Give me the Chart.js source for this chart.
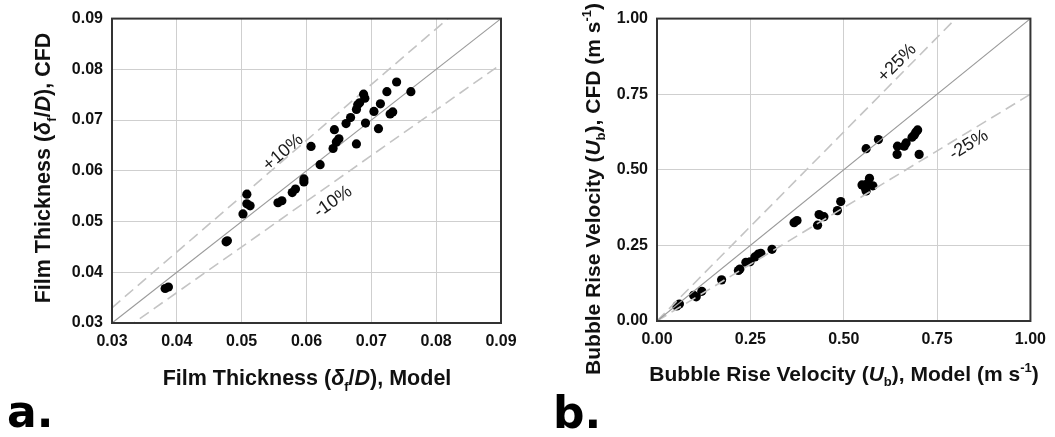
<!DOCTYPE html>
<html><head><meta charset="utf-8">
<script src="https://cdn.jsdelivr.net/npm/chart.js@4/dist/chart.umd.min.js"></script>
<style>
html,body{margin:0;padding:0;background:#fff;}
#wrap{position:relative;width:1055px;height:437px;overflow:hidden;background:#fff;}
canvas{position:absolute;top:0;}
#ca{left:0;} #cb{left:530px;}
</style></head><body>
<div id="wrap"><canvas id="ca" width="530" height="437"></canvas><canvas id="cb" width="525" height="437"></canvas></div>
<script>
// ---- Panel a: film thickness (delta_f / D) ----
const modelFilm = [0.0382,0.0387,0.0476,0.0478,0.0502,0.0508,0.0508,0.0513,0.0556,0.0562,0.0578,0.0583,0.0596,0.0596,0.0607,0.0621,0.0641,0.0643,0.0646,0.0650,0.0661,0.0668,0.0677,0.0677,0.0679,0.0682,0.0688,0.0690,0.0691,0.0704,0.0711,0.0714,0.0724,0.0729,0.0733,0.0739,0.0761];
const cfdFilm   = [0.0368,0.0371,0.0460,0.0462,0.0515,0.0554,0.0535,0.0531,0.0537,0.0541,0.0557,0.0564,0.0584,0.0578,0.0648,0.0612,0.0644,0.0681,0.0657,0.0663,0.0693,0.0705,0.0653,0.0721,0.0730,0.0734,0.0751,0.0743,0.0694,0.0717,0.0683,0.0732,0.0756,0.0712,0.0716,0.0775,0.0756];
const filmTicks = [0.03,0.04,0.05,0.06,0.07,0.08,0.09];
const filmBands = [1.10, 0.90];          // +10% / -10%
const filmBandLabels = ['+10%','-10%'];

// ---- Panel b: bubble rise velocity (m/s) ----
const modelUb = [0.053,0.060,0.098,0.105,0.120,0.173,0.218,0.222,0.238,0.249,0.262,0.271,0.278,0.308,0.367,0.375,0.430,0.434,0.447,0.483,0.492,0.549,0.558,0.564,0.569,0.578,0.560,0.560,0.593,0.643,0.644,0.662,0.667,0.683,0.689,0.693,0.698,0.702];
const cfdUb   = [0.050,0.056,0.085,0.080,0.098,0.136,0.167,0.172,0.194,0.196,0.212,0.221,0.224,0.237,0.325,0.332,0.317,0.352,0.345,0.365,0.395,0.450,0.439,0.455,0.472,0.447,0.430,0.570,0.600,0.551,0.578,0.578,0.589,0.608,0.615,0.624,0.632,0.551];
const ubTicks = [0.00,0.25,0.50,0.75,1.00];
const ubBands = [1.25, 0.75];            // +25% / -25%
const ubBandLabels = ['+25%','-25%'];

const FAM = '"Liberation Sans", Arial, Helvetica, sans-serif';
Chart.defaults.font.family = FAM;

function drawRich(ctx, segs, cx, cy, rot, size){
  ctx.save();
  ctx.translate(cx, cy); ctx.rotate(rot);
  const small = Math.round(size*0.62);
  const fontFor = s => (s.i?'italic ':'') + 'bold ' + ((s.sub||s.sup)?small:size) + 'px ' + FAM;
  let total = 0; const ws = [];
  segs.forEach(s => { ctx.font = fontFor(s); const w = ctx.measureText(s.t).width; ws.push(w); total += w; });
  let x = -total/2;
  ctx.textBaseline = 'alphabetic'; ctx.textAlign = 'left'; ctx.fillStyle = '#111';
  const base = size*0.36;
  segs.forEach((s,k) => {
    ctx.font = fontFor(s);
    const dy = s.sub ? size*0.28 : s.sup ? -size*0.42 : 0;
    ctx.fillText(s.t, x, base + dy);
    x += ws[k];
  });
  ctx.restore();
}

function makePlugin(o){
  return {
    id: 'decor',
    afterDatasetsDraw(chart){
      const ctx = chart.ctx, a = chart.chartArea, xs = chart.scales.x, ys = chart.scales.y;
      // band labels
      ctx.save();
      ctx.font = '18px ' + FAM; ctx.fillStyle = '#1a1a1a';
      ctx.textAlign = 'center'; ctx.textBaseline = 'middle';
      o.bandText.forEach((b) => {
        const k = b.k;
        const p0x = xs.getPixelForValue(o.min), p0y = ys.getPixelForValue(o.min*k);
        const p1x = xs.getPixelForValue(o.max), p1y = ys.getPixelForValue(o.max*k);
        const ang = Math.atan2(p1y-p0y, p1x-p0x);
        ctx.save();
        ctx.translate(xs.getPixelForValue(b.x), ys.getPixelForValue(b.y));
        ctx.rotate(ang);
        ctx.fillText(b.t, 0, 0);
        ctx.restore();
      });
      ctx.restore();
      // frame
      ctx.save();
      ctx.strokeStyle = '#333'; ctx.lineWidth = 2;
      ctx.strokeRect(a.left, a.top, a.right-a.left, a.bottom-a.top);
      ctx.restore();
      // titles
      drawRich(ctx, o.xTitle, o.xTitlePos[0], o.xTitlePos[1], 0, o.titleSize);
      drawRich(ctx, o.yTitle, o.yTitlePos[0], o.yTitlePos[1], -Math.PI/2, o.titleSize);
      // panel letter
      ctx.save();
      ctx.font = 'bold 44px "DejaVu Sans", sans-serif'; ctx.fillStyle = '#000';
      ctx.textAlign = 'left'; ctx.textBaseline = 'alphabetic';
      ctx.fillText(o.letter, o.letterPos[0], o.letterPos[1]);
      ctx.restore();
    }
  };
}

function buildChart(id, o){
  const pts = o.xv.map((v,i)=>({x:v, y:o.yv[i]}));
  const datasets = [{
    type:'scatter', data: pts, backgroundColor:'#000', borderColor:'#000',
    pointRadius:4.6, pointBorderWidth:0, order: o.pointsOnTop?0:2
  },{
    type:'line', data:[{x:o.min,y:o.min},{x:o.max,y:o.max}], borderColor:'#9a9a9a', borderWidth:1.2,
    pointRadius:0, fill:false, order:1
  }];
  o.bands.forEach(k => datasets.push({
    type:'line', data:[{x:o.min,y:o.min*k},{x:o.max,y:o.max*k}], borderColor:'#c4c4c4', borderWidth:1.6,
    borderDash:[11,6], pointRadius:0, fill:false, order:1
  }));
  const tickFont = {size:16, weight:'bold', family:FAM};
  return new Chart(document.getElementById(id), {
    type:'scatter',
    data:{datasets},
    options:{
      responsive:false, animation:false, devicePixelRatio:1,
      layout:{padding:{left:0, top:o.padTop, right:o.padRight, bottom:0}},
      plugins:{legend:{display:false}, tooltip:{enabled:false}},
      scales:{
        x:{type:'linear', min:o.min, max:o.max,
          afterBuildTicks: s => { s.ticks = o.ticks.map(v=>({value:v})); },
          afterFit: s => { s.height = o.xH; },
          ticks:{font:tickFont, color:'#111', padding:9, maxRotation:0, autoSkip:false,
            callback: v => Number(v).toFixed(2)},
          grid:{color:'#cfcfcf', lineWidth:1, drawTicks:false},
          border:{display:false}
        },
        y:{type:'linear', min:o.min, max:o.max,
          afterBuildTicks: s => { s.ticks = o.ticks.map(v=>({value:v})); },
          afterFit: s => { s.width = o.yW; },
          ticks:{font:tickFont, color:'#111', padding:9, autoSkip:false,
            callback: v => Number(v).toFixed(2)},
          grid:{color:'#cfcfcf', lineWidth:1, drawTicks:false},
          border:{display:false}
        }
      }
    },
    plugins:[makePlugin(o)]
  });
}

buildChart('ca', {
  xv:modelFilm, yv:cfdFilm, min:0.03, max:0.09, ticks:filmTicks, bands:filmBands,
  padTop:14, padRight:29, xH:114, yW:112, pointsOnTop:true, titleSize:21.5,
  bandText:[{t:filmBandLabels[0], k:filmBands[0], x:0.0564, y:0.0636},{t:filmBandLabels[1], k:filmBands[1], x:0.0641, y:0.0539}],
  xTitle:[{t:'Film Thickness ('},{t:'δ',i:true},{t:'f',sub:true},{t:'/'},{t:'D',i:true},{t:'), Model'}],
  yTitle:[{t:'Film Thickness ('},{t:'δ',i:true},{t:'f',sub:true},{t:'/'},{t:'D',i:true},{t:'), CFD'}],
  xTitlePos:[307,377], yTitlePos:[42,168],
  letter:'a.', letterPos:[7,427]
});

buildChart('cb', {
  xv:modelUb, yv:cfdUb, min:0, max:1, ticks:ubTicks, bands:ubBands,
  padTop:15, padRight:23, xH:116, yW:127, pointsOnTop:false, titleSize:21,
  bandText:[{t:ubBandLabels[0], k:ubBands[0], x:0.643, y:0.853},{t:ubBandLabels[1], k:ubBands[1], x:0.835, y:0.582}],
  xTitle:[{t:'Bubble Rise Velocity ('},{t:'U',i:true},{t:'b',sub:true},{t:'), Model (m s'},{t:'-1',sup:true},{t:')'}],
  yTitle:[{t:'Bubble Rise Velocity ('},{t:'U',i:true},{t:'b',sub:true},{t:'), CFD (m s'},{t:'-1',sup:true},{t:')'}],
  xTitlePos:[314,373], yTitlePos:[62,189],
  letter:'b.', letterPos:[23,428]
});
</script>
</body></html>
